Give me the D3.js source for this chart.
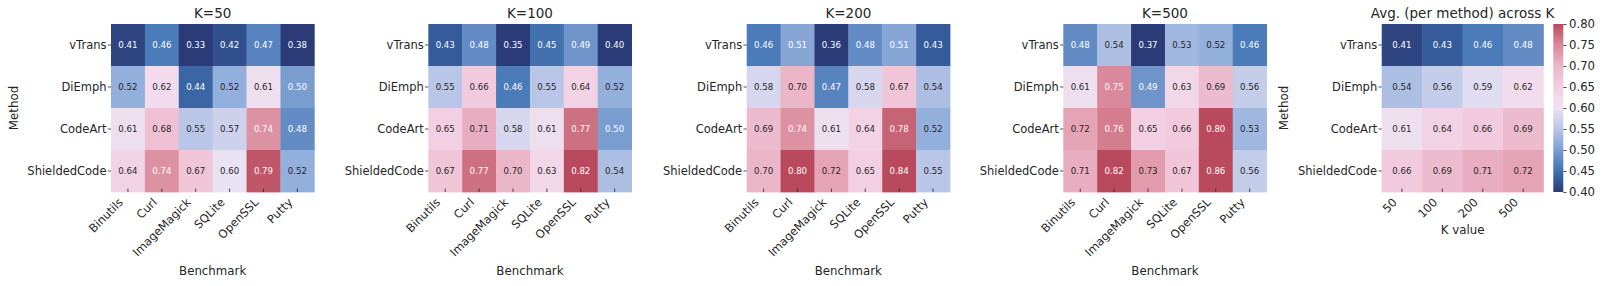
<!DOCTYPE html>
<html><head><meta charset="utf-8">
<script src="https://cdn.jsdelivr.net/npm/d3@7"></script>
<style>
html,body{margin:0;padding:0;background:#fff;}
text{font-family:"DejaVu Sans",sans-serif;fill:#262626;}
</style></head>
<body>
<svg id="chart" width="1603" height="286"></svg>
<script>
// ---- data ----
const methods = ["vTrans","DiEmph","CodeArt","ShieldedCode"];
const benchmarks = ["Binutils","Curl","ImageMagick","SQLite","OpenSSL","Putty"];
const kLabels = ["50","100","200","500"];
const panelTitles = ["K=50","K=100","K=200","K=500"];

const k50 = [
  [0.41,0.46,0.33,0.42,0.47,0.38],
  [0.52,0.62,0.44,0.52,0.61,0.50],
  [0.61,0.68,0.55,0.57,0.74,0.48],
  [0.64,0.74,0.67,0.60,0.79,0.52]
];
const k100 = [
  [0.43,0.48,0.35,0.45,0.49,0.40],
  [0.55,0.66,0.46,0.55,0.64,0.52],
  [0.65,0.71,0.58,0.61,0.77,0.50],
  [0.67,0.77,0.70,0.63,0.82,0.54]
];
const k200 = [
  [0.46,0.51,0.36,0.48,0.51,0.43],
  [0.58,0.70,0.47,0.58,0.67,0.54],
  [0.69,0.74,0.61,0.64,0.78,0.52],
  [0.70,0.80,0.72,0.65,0.84,0.55]
];
const k500 = [
  [0.48,0.54,0.37,0.53,0.52,0.46],
  [0.61,0.75,0.49,0.63,0.69,0.56],
  [0.72,0.76,0.65,0.66,0.80,0.53],
  [0.71,0.82,0.73,0.67,0.86,0.56]
];
const avgK = [
  [0.41,0.43,0.46,0.48],
  [0.54,0.56,0.59,0.62],
  [0.61,0.64,0.66,0.69],
  [0.66,0.69,0.71,0.72]
];
const cbarTicks = [0.40,0.45,0.50,0.55,0.60,0.65,0.70,0.75,0.80];

// ---- colour map ----
const stopVals = [0.40,0.44,0.46,0.50,0.52,0.55,0.60,0.62,0.65,0.70,0.75,0.80];
const stopCols = ["#2a3b77","#3a66a6","#4b7bb8","#7a9dd0","#93afdc","#bac6e7","#e9e2f3","#f2dbec","#f2cfe2","#ecb6c9","#d9899b","#b94a5d"];
const color = d3.scaleLinear().domain(stopVals).range(stopCols).interpolate(d3.interpolateLab).clamp(true);

function lum(c){
  const r = d3.rgb(c);
  const f = v => { v/=255; return v<=0.03928 ? v/12.92 : Math.pow((v+0.055)/1.055,2.4); };
  return 0.2126*f(r.r)+0.7152*f(r.g)+0.0722*f(r.b);
}

const svg = d3.select("#chart");
svg.append("rect").attr("width",1603).attr("height",286).attr("fill","#fff");

const hmTop = 24, hmBottom = 192;

function heatmap(left, width, data, cols, title, xLabel, showMethod, methodX, xLabelY){
  const g = svg.append("g");
  const x = d3.scaleBand().domain(cols).range([left,left+width]).padding(0);
  const y = d3.scaleBand().domain(methods).range([hmTop,hmBottom]).padding(0);
  data.forEach((row,i)=>{
    row.forEach((v,j)=>{
      const c = color(v);
      g.append("rect")
        .attr("x",x(cols[j])).attr("y",y(methods[i]))
        .attr("width",x.bandwidth()+0.4).attr("height",y.bandwidth()+0.4)
        .attr("fill",c);
      g.append("text")
        .attr("x",x(cols[j])+x.bandwidth()/2)
        .attr("y",y(methods[i])+y.bandwidth()/2)
        .attr("dy","0.35em")
        .attr("text-anchor","middle")
        .style("font-size","8.6px")
        .style("fill", lum(c) > 0.408 ? "#262626" : "#ffffff")
        .text(v.toFixed(2));
    });
  });
  methods.forEach(m=>{
    const yy = y(m)+y.bandwidth()/2;
    g.append("line").attr("x1",left-3.2).attr("x2",left).attr("y1",yy).attr("y2",yy)
      .attr("stroke","#262626").attr("stroke-width",0.8);
    g.append("text").attr("x",left-4.5).attr("y",yy).attr("dy","0.35em")
      .attr("text-anchor","end").style("font-size","11.5px").text(m);
  });
  cols.forEach(c=>{
    const xx = x(c)+x.bandwidth()/2;
    g.append("line").attr("x1",xx).attr("x2",xx).attr("y1",hmBottom-3.5).attr("y2",hmBottom)
      .attr("stroke","#262626").attr("stroke-width",0.8);
    g.append("text")
      .attr("transform",`translate(${xx-7},${hmBottom+8.2}) rotate(-45)`)
      .attr("text-anchor","end").attr("dy","0.35em")
      .style("font-size","11.5px").text(c);
  });
  g.append("text").attr("x",left+width/2).attr("y",18.3)
    .attr("text-anchor","middle").style("font-size","13.5px").text(title);
  g.append("text").attr("x",left+width/2).attr("y",xLabelY)
    .attr("text-anchor","middle").style("font-size","11.8px").text(xLabel);
  if(showMethod){
    g.append("text").attr("transform",`translate(${methodX},${(hmTop+hmBottom)/2}) rotate(-90)`)
      .attr("text-anchor","middle").attr("dy","0.35em").style("font-size","11.8px").text("Method");
  }
}

const panelData = [k50,k100,k200,k500];
const lefts = [111,428.3,746.7,1063.3];
panelData.forEach((d,i)=>{
  heatmap(lefts[i], 203.3, d, benchmarks, panelTitles[i], "Benchmark", i===0, 13.5, 274.5);
});
heatmap(1381.7, 161.7, avgK, kLabels, "Avg. (per method) across K", "K value", true, 1284, 234);

// colorbar
const cbX = 1553.3, cbW = 10;
const defs = svg.append("defs");
const grad = defs.append("linearGradient").attr("id","cbg")
  .attr("x1","0").attr("y1","1").attr("x2","0").attr("y2","0");
d3.range(0,41).forEach(i=>{
  const v = 0.40 + i*0.01;
  grad.append("stop").attr("offset",(i/40)).attr("stop-color",color(v));
});
svg.append("rect").attr("x",cbX).attr("y",hmTop).attr("width",cbW).attr("height",hmBottom-hmTop).attr("fill","url(#cbg)");
const cy = d3.scaleLinear().domain([0.40,0.80]).range([hmBottom,hmTop]);
const cax = svg.append("g").attr("transform",`translate(${cbX+cbW},0)`)
  .call(d3.axisRight(cy).tickValues(cbarTicks).tickFormat(d3.format(".2f")).tickSize(3.2).tickPadding(2.5));
cax.select(".domain").remove();
cax.selectAll("line").attr("stroke","#262626").attr("stroke-width",0.8);
cax.selectAll("text").style("font-size","11.7px").style("font-family","DejaVu Sans, sans-serif").attr("fill","#262626");
</script>
</body></html>
